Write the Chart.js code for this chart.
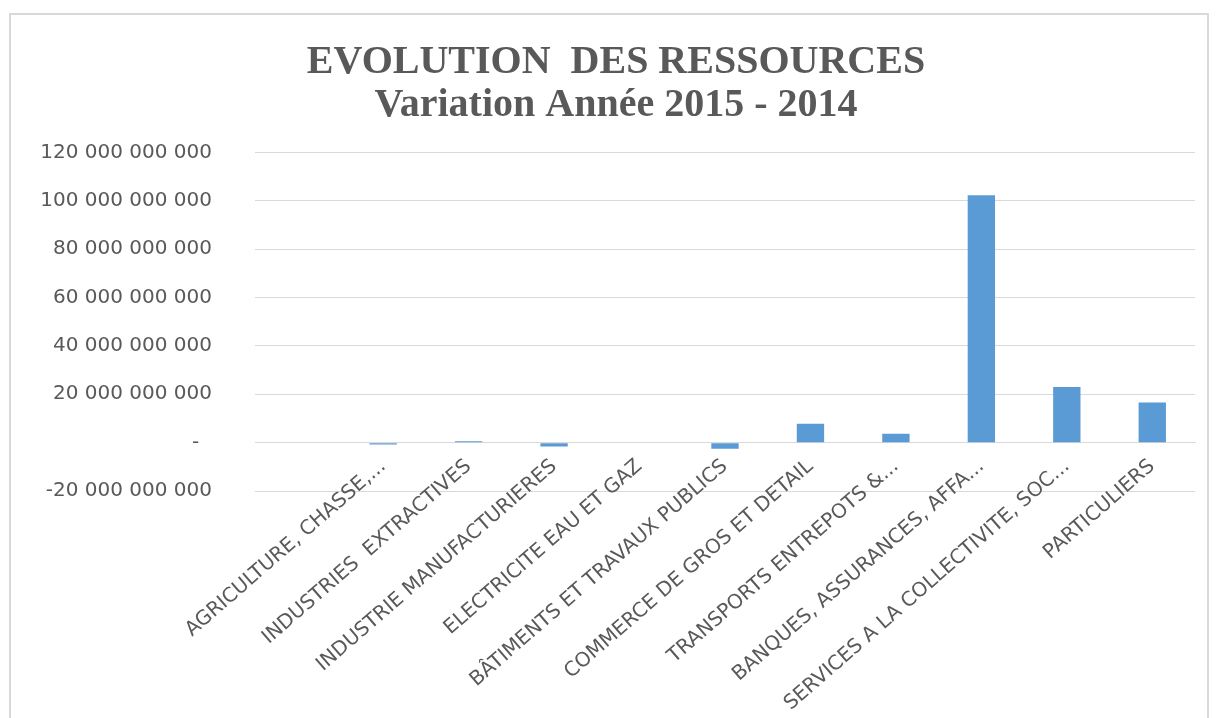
<!DOCTYPE html>
<html>
<head>
<meta charset="utf-8">
<title>Evolution des ressources</title>
<script src="https://cdn.jsdelivr.net/npm/chart.js@4"></script>
<style>
  html, body { margin: 0; padding: 0; background: #fff; }
  #frame { position: absolute; left: 9px; top: 13px; width: 1196px; height: 720px; border: 2px solid #d9d9d9; border-bottom: none; }
  #wrap { position: absolute; left: 0; top: 0; width: 1216px; height: 718px; }
</style>
</head>
<body>
<div id="frame"></div>
<div id="wrap"><canvas id="chart"></canvas></div>
<script>
// sectors (first slot is a blank row of the sheet)
const categories = [
  '',
  'AGRICULTURE, CHASSE,...',
  'INDUSTRIES  EXTRACTIVES',
  'INDUSTRIE MANUFACTURIERES',
  'ELECTRICITE EAU ET GAZ',
  'BÂTIMENTS ET TRAVAUX PUBLICS',
  'COMMERCE DE GROS ET DETAIL',
  'TRANSPORTS ENTREPOTS &...',
  'BANQUES, ASSURANCES, AFFA...',
  'SERVICES A LA COLLECTIVITE, SOC...',
  'PARTICULIERS',
];
// variation 2015 - 2014
const variation = [null, -0.8e9, 0.6e9, -1.6e9, 0, -2.5e9, 7.8e9, 3.7e9, 102.3e9, 23e9, 16.6e9];
const titleLines = ['EVOLUTION  DES RESSOURCES', 'Variation Année 2015 - 2014'];
const yMin = -20e9;
const yMax = 120e9;
const yStep = 20e9;

const grey = '#595959';

function fmtAmount(v) {
  if (v === 0) return '-  ';
  const s = Math.abs(v).toFixed(0).replace(/\B(?=(\d{3})+(?!\d))/g, ' ');
  return (v < 0 ? '-' : '') + s;
}

new Chart(document.getElementById('chart'), {
  type: 'bar',
  data: {
    labels: categories,
    datasets: [{
      data: variation,
      backgroundColor: '#5B9BD5',
      barPercentage: 0.32,
      categoryPercentage: 1,
    }],
  },
  options: {
    responsive: true,
    maintainAspectRatio: false,
    animation: false,
    // bottom room is for the slanted sector names hanging under the zero line
    layout: { padding: { left: 37, right: 21, top: 0, bottom: 227 } },
    plugins: {
      legend: { display: false },
      tooltip: { enabled: false },
      title: {
        display: true,
        text: titleLines,
        color: grey,
        font: { family: 'Liberation Serif', size: 40, weight: 'bold', lineHeight: 1.08 },
        padding: { top: 41, bottom: 25 },
      },
    },
    scales: {
      x: {
        type: 'category',
        axis: 'x',
        position: { y: 0 },
        afterFit: (s) => { s.height = 0; },
        grid: { display: false },
        border: { display: true, color: '#d9d9d9' },
        ticks: {
          autoSkip: false,
          maxRotation: 41,
          minRotation: 41,
          padding: 4,
          color: grey,
          font: { family: 'DejaVu Sans', size: 20 },
        },
      },
      y: {
        min: yMin,
        max: yMax,
        grid: { color: '#d9d9d9', drawTicks: false },
        border: { display: false },
        afterFit: (s) => { s.width = 218; },
        ticks: {
          stepSize: yStep,
          padding: 43,
          color: grey,
          font: { family: 'DejaVu Sans', size: 20 },
          callback: (v) => fmtAmount(v),
        },
      },
    },
  },
});
</script>
</body>
</html>
